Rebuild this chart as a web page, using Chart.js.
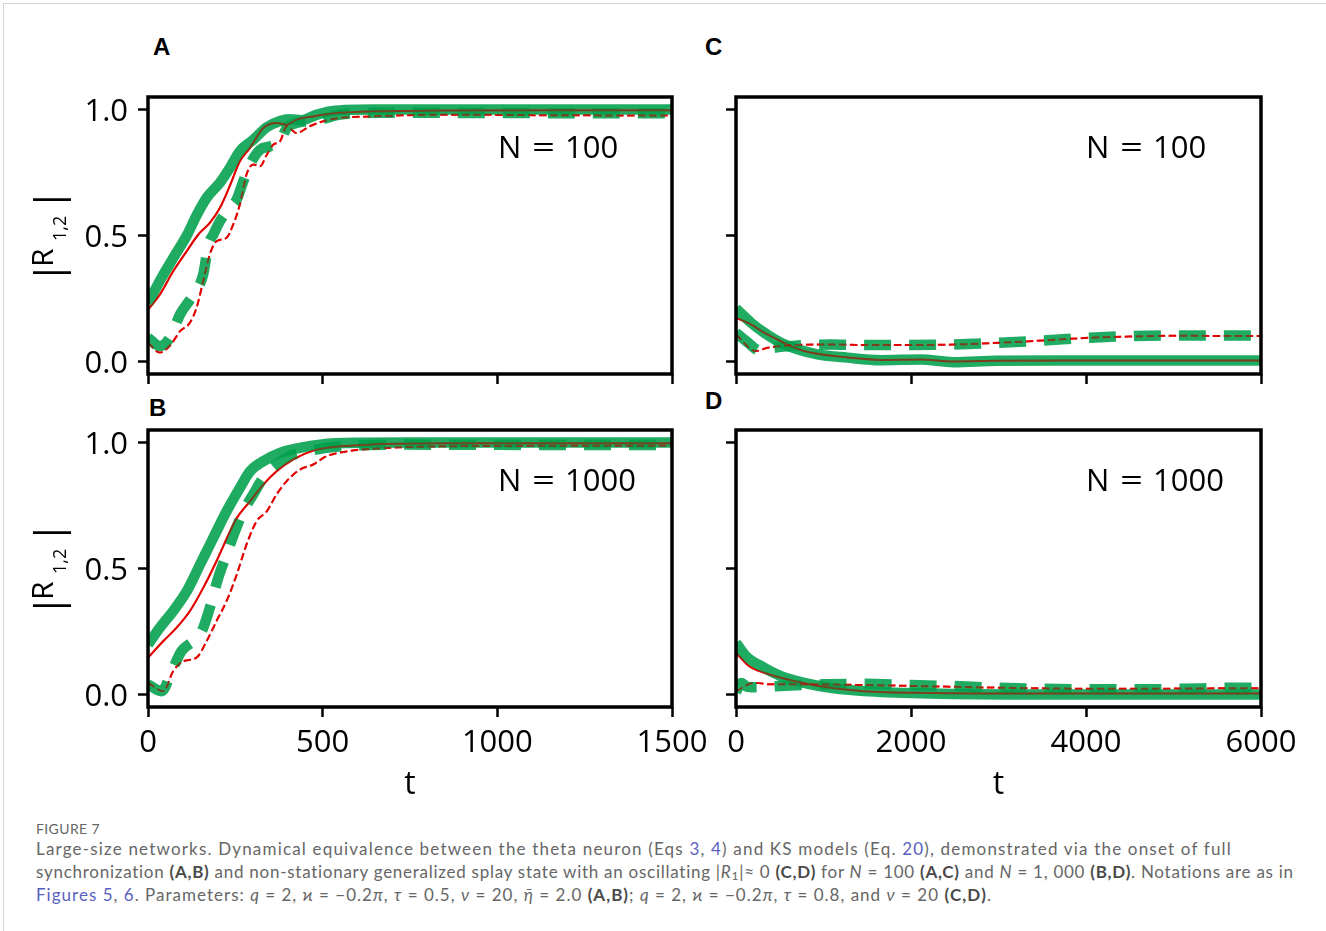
<!DOCTYPE html>
<html><head><meta charset="utf-8">
<script src="https://cdn.jsdelivr.net/npm/chart.js@4.4.0/dist/chart.umd.min.js"></script>
<style>
html,body{margin:0;padding:0;background:#fff;}
body{width:1326px;height:931px;position:relative;overflow:hidden;}
.frame{position:absolute;left:3px;top:3px;width:1400px;height:1000px;border-left:1.5px solid #d4d4d4;border-top:1.5px solid #d4d4d4;}
.box{position:absolute;}
.letter{position:absolute;font:bold 24px "Liberation Sans",Arial,sans-serif;line-height:24px;color:#000;}
.cap{position:absolute;left:36px;white-space:nowrap;font-family:Lato,"Noto Sans",sans-serif;color:#666;font-size:17px;line-height:23px;}
.cap b{color:#4a4a4a;font-weight:700}
.cap a{color:#5a5fbf;text-decoration:none}
.cap sub{font-size:12px;line-height:0;vertical-align:-2px}
.fig{position:absolute;left:36px;top:821px;font-family:Lato,"Noto Sans",sans-serif;font-size:14px;line-height:16px;color:#666;white-space:nowrap;}
</style></head><body>
<div class="frame"></div>
<div class="letter" style="left:153px;top:35px">A</div>
<div class="letter" style="left:705px;top:35px">C</div>
<div class="letter" style="left:149px;top:396px">B</div>
<div class="letter" style="left:705px;top:389px">D</div>
<div class="box" style="left:20px;top:80px;width:690px;height:320px"><canvas id="cA" width="690" height="320"></canvas></div>
<div class="box" style="left:700px;top:80px;width:600px;height:320px"><canvas id="cC" width="600" height="320"></canvas></div>
<div class="box" style="left:20px;top:410px;width:690px;height:394px"><canvas id="cB" width="690" height="394"></canvas></div>
<div class="box" style="left:700px;top:410px;width:600px;height:394px"><canvas id="cD" width="600" height="394"></canvas></div>
<div class="fig" data-w="64">FIGURE 7</div>
<div class="cap" data-w="1196" style="top:837px">Large-size networks. Dynamical equivalence between the theta neuron (Eqs <a>3</a>, <a>4</a>) and KS models (Eq. <a>20</a>), demonstrated via the onset of full</div>
<div class="cap" data-w="1259" style="top:860px">synchronization <b>(A,B)</b> and non-stationary generalized splay state with an oscillating |<i>R</i><sub>1</sub>|≈ 0 <b>(C,D)</b> for <i>N</i> = 100 <b>(A,C)</b> and <i>N</i> = 1, 000 <b>(B,D)</b>. Notations are as in</div>
<div class="cap" data-w="957" style="top:883px"><a>Figures 5</a>, <a>6</a>. Parameters: <i>q</i> = 2, ϰ = −0.2<i>π</i>, <i>τ</i> = 0.5, <i>ν</i> = 20, <i>η̄</i> = 2.0 <b>(A,B)</b>; <i>q</i> = 2, ϰ = −0.2<i>π</i>, <i>τ</i> = 0.8, and <i>ν</i> = 20 <b>(C,D)</b>.</div>
<script>
// ---------- tick labels ----------
const xTicksAB = [0, 500, 1000, 1500];
const xTicksCD = [0, 2000, 4000, 6000];
const yTicks = [0.0, 0.5, 1.0];
const nLabels = {A: '100', B: '1000', C: '100', D: '1000'};

// ---------- Panel A (N=100, sync) ----------
const aGreenSolidT = [0, 34, 72, 111, 139, 168, 206, 235, 263, 301, 340, 378, 405, 440, 480, 520, 560, 650, 800, 1000, 1200, 1500];
const aGreenSolidV = [0.23, 0.32, 0.41, 0.50, 0.58, 0.65, 0.71, 0.77, 0.835, 0.88, 0.93, 0.955, 0.962, 0.958, 0.978, 0.993, 0.998, 1.0, 1.0, 1.0, 1.0, 1.0];
const aRedSolidT = [0, 34, 72, 111, 144, 177, 206, 235, 263, 292, 330, 368, 397, 425, 473, 550, 645, 836, 1100, 1500];
const aRedSolidV = [0.205, 0.266, 0.358, 0.438, 0.504, 0.55, 0.61, 0.70, 0.795, 0.848, 0.927, 0.947, 0.94, 0.96, 0.973, 0.987, 0.993, 0.996, 0.997, 0.997];
const aGreenDashT = [0, 34, 63, 92, 130, 158, 173, 187, 206, 235, 254, 273, 292, 321, 349, 378, 397, 425, 454, 492, 550, 645, 836, 1100, 1500];
const aGreenDashV = [0.094, 0.061, 0.095, 0.187, 0.266, 0.345, 0.464, 0.504, 0.557, 0.611, 0.643, 0.716, 0.782, 0.841, 0.854, 0.874, 0.927, 0.947, 0.954, 0.96, 0.98, 0.987, 0.987, 0.986, 0.985];
const aRedDashT = [0, 34, 63, 92, 120, 139, 158, 177, 196, 225, 244, 263, 282, 301, 321, 340, 359, 378, 397, 425, 463, 502, 550, 645, 836, 1100, 1500];
const aRedDashV = [0.074, 0.035, 0.063, 0.12, 0.154, 0.213, 0.319, 0.425, 0.477, 0.491, 0.544, 0.623, 0.742, 0.782, 0.775, 0.821, 0.861, 0.874, 0.934, 0.907, 0.934, 0.954, 0.967, 0.973, 0.98, 0.978, 0.976];

// ---------- Panel B (N=1000, sync) ----------
const bGreenSolidT = [0, 34, 72, 111, 149, 187, 225, 263, 292, 330, 378, 435, 492, 597, 800, 1100, 1500];
const bGreenSolidV = [0.198, 0.265, 0.331, 0.41, 0.516, 0.622, 0.727, 0.82, 0.886, 0.926, 0.959, 0.979, 0.992, 0.999, 1.0, 1.0, 1.0];
const bRedSolidT = [0, 44, 82, 120, 158, 196, 235, 254, 292, 330, 368, 416, 473, 550, 645, 850, 1100, 1500];
const bRedSolidV = [0.146, 0.212, 0.265, 0.331, 0.423, 0.529, 0.648, 0.70, 0.767, 0.833, 0.886, 0.933, 0.968, 0.985, 0.993, 0.997, 0.997, 0.997];
const bGreenDashT = [0, 39, 68, 96, 130, 154, 177, 201, 225, 249, 273, 301, 330, 368, 406, 454, 511, 597, 741, 1000, 1500];
const bGreenDashV = [0.04, 0.013, 0.092, 0.172, 0.212, 0.251, 0.344, 0.463, 0.556, 0.648, 0.727, 0.794, 0.86, 0.913, 0.946, 0.965, 0.979, 0.989, 0.992, 0.991, 0.99];
const bRedDashT = [0, 44, 72, 101, 139, 168, 196, 225, 254, 282, 311, 340, 368, 397, 435, 473, 511, 569, 645, 836, 1100, 1500];
const bRedDashV = [0.046, 0.013, 0.092, 0.132, 0.146, 0.212, 0.291, 0.371, 0.476, 0.595, 0.688, 0.727, 0.794, 0.847, 0.893, 0.913, 0.946, 0.965, 0.976, 0.985, 0.987, 0.988];

// ---------- Panel C (N=100, splay) ----------
const cGreenSolidT = [0, 170, 322, 512, 702, 930, 1271, 1651, 2107, 2486, 2979, 3738, 4500, 5200, 6000];
const cGreenSolidV = [0.21, 0.154, 0.114, 0.074, 0.048, 0.028, 0.015, 0.005, 0.008, -0.003, 0.003, 0.004, 0.004, 0.004, 0.004];
const cRedSolidT = [0, 170, 322, 512, 702, 930, 1271, 1651, 2107, 2486, 2979, 3738, 4500, 5200, 6000];
const cRedSolidV = [0.173, 0.147, 0.114, 0.08, 0.05, 0.03, 0.016, 0.006, 0.008, 0.0, 0.003, 0.004, 0.004, 0.004, 0.004];
const cGreenDashT = [0, 114, 284, 436, 702, 1082, 1461, 1955, 2486, 3017, 3510, 4042, 4535, 5066, 5579, 6000];
const cGreenDashV = [0.114, 0.081, 0.041, 0.054, 0.063, 0.067, 0.065, 0.065, 0.067, 0.074, 0.083, 0.094, 0.101, 0.103, 0.103, 0.103];
const cRedDashT = [0, 227, 360, 702, 1082, 1461, 1955, 2486, 3017, 3510, 4042, 4535, 5066, 5579, 6000];
const cRedDashV = [0.107, 0.041, 0.054, 0.065, 0.067, 0.065, 0.065, 0.067, 0.074, 0.083, 0.094, 0.099, 0.102, 0.101, 0.101];

// ---------- Panel D (N=1000, splay) ----------
const dGreenSolidT = [0, 114, 322, 512, 778, 1082, 1461, 2220, 3358, 4500, 6000];
const dGreenSolidV = [0.205, 0.152, 0.106, 0.073, 0.046, 0.026, 0.013, 0.004, 0.0, 0.0, 0.0];
const dRedSolidT = [0, 152, 322, 512, 778, 1082, 1461, 2220, 3358, 4500, 6000];
const dRedSolidV = [0.165, 0.112, 0.086, 0.066, 0.044, 0.026, 0.013, 0.006, 0.004, 0.004, 0.004];
const dGreenDashT = [0, 60, 130, 250, 450, 750, 1006, 1461, 1993, 2505, 3017, 3529, 4042, 4554, 5066, 5597, 6000];
const dGreenDashV = [0.01, 0.045, 0.03, 0.028, 0.032, 0.037, 0.04, 0.042, 0.037, 0.033, 0.026, 0.022, 0.02, 0.02, 0.022, 0.026, 0.027];
const dRedDashT = [0, 208, 398, 800, 1500, 2500, 3500, 4500, 5500, 6000];
const dRedDashV = [0.013, 0.046, 0.04, 0.04, 0.037, 0.03, 0.024, 0.022, 0.024, 0.024];

// ---------- styles ----------
const FONT = '"Open Sans", "Noto Sans", sans-serif';
const GREEN = 'rgba(0,160,76,0.88)';
const RED = '#ff0000';
const RED_OVER = 'rgba(200,0,0,0.55)';

function pts(T, V) { return T.map((t, i) => ({x: t, y: V[i]})); }

function makeDatasets(gsT, gsV, rsT, rsV, gdT, gdV, rdT, rdV) {
  const gs = pts(gsT, gsV), rs = pts(rsT, rsV), gd = pts(gdT, gdV), rd = pts(rdT, rdV);
  const base = {fill: false, pointRadius: 0, cubicInterpolationMode: 'monotone', clip: 0, borderCapStyle: 'butt', borderJoinStyle: 'round'};
  return [
    {...base, data: rs, borderColor: RED, borderWidth: 2, order: 5},
    {...base, data: rd, borderColor: RED, borderWidth: 2, borderDash: [7.5, 3.5], order: 5},
    {...base, data: gs, borderColor: GREEN, borderWidth: 10.5, order: 3},
    {...base, data: gd, borderColor: GREEN, borderWidth: 10.5, borderDash: [27, 18], order: 3},
    {...base, data: rs, borderColor: RED_OVER, borderWidth: 2, order: 1},
    {...base, data: rd, borderColor: RED_OVER, borderWidth: 2, borderDash: [7.5, 3.5], order: 1}
  ];
}

const panelPlugin = {
  id: 'panel',
  afterDatasetsDraw(chart, args, o) {
    const {ctx, chartArea: a} = chart;
    ctx.save();
    ctx.lineWidth = 3.5; ctx.strokeStyle = '#000';
    ctx.strokeRect(a.left, a.top, a.right - a.left, a.bottom - a.top);
    ctx.fillStyle = '#000';
    ctx.textBaseline = 'alphabetic'; ctx.textAlign = 'left';
    ctx.font = '31px ' + FONT;
    const by = a.top + 61;
    ctx.fillText('N', a.left + 350, by);
    ctx.fillText(o.n, a.left + 417, by);
    ctx.save();
    ctx.translate(a.left + 384, by);
    ctx.scale(1.3, 1);
    ctx.fillText('=', 0, 0);
    ctx.restore();
    if (o.ytitle) {
      const cy = (a.top + a.bottom) / 2;
      ctx.translate(32.7, cy);
      ctx.rotate(-Math.PI / 2);
      ctx.textAlign = 'center';
      ctx.font = '38px ' + FONT;
      ctx.fillText('|', -37, 9);
      ctx.fillText('|', 36, 9);
      ctx.textAlign = 'left';
      ctx.font = '30px ' + FONT;
      ctx.fillText('R', -31.5, 0);
      ctx.font = '18px ' + FONT;
      ctx.fillText('1,2', -5.5, 13);
    }
    ctx.restore();
  }
};

function makeScales(xmax, xticks, showX, showY, xHeight, yWidth) {
  const gridOpts = {display: true, drawOnChartArea: false, drawTicks: true, tickLength: 10, tickWidth: 2.5, tickColor: '#000', color: '#000'};
  return {
    x: {
      type: 'linear', min: 0, max: xmax,
      afterBuildTicks: s => { s.ticks = xticks.map(v => ({value: v})); },
      afterFit: s => { s.height = xHeight; s.paddingLeft = 0; s.paddingRight = 0; },
      grid: gridOpts, border: {display: false},
      ticks: {display: showX, color: '#000', font: {family: FONT, size: 31}, padding: 8, maxRotation: 0, autoSkip: false, callback: v => String(v)},
      title: {display: showX, text: 't', color: '#000', font: {family: FONT, size: 32}, padding: 0}
    },
    y: {
      type: 'linear', min: -0.05, max: 1.05,
      afterBuildTicks: s => { s.ticks = yTicks.map(v => ({value: v})); },
      afterFit: s => { s.width = yWidth; s.paddingTop = 0; s.paddingBottom = 0; },
      grid: gridOpts, border: {display: false},
      ticks: {display: showY, color: '#000', font: {family: FONT, size: 31}, padding: 10, labelOffset: 3, callback: v => Number(v).toFixed(1)}
    }
  };
}

function makeChart(id, ds, xmax, xticks, showX, showY, xHeight, yWidth, pad, n) {
  return new Chart(document.getElementById(id), {
    type: 'line',
    data: {datasets: ds},
    options: {
      responsive: false, animation: false, devicePixelRatio: 1,
      layout: {padding: pad},
      plugins: {legend: {display: false}, tooltip: {enabled: false}, panel: {n: n, ytitle: showY}},
      scales: makeScales(xmax, xticks, showX, showY, xHeight, yWidth)
    },
    plugins: [panelPlugin]
  });
}

makeChart('cA', makeDatasets(aGreenSolidT, aGreenSolidV, aRedSolidT, aRedSolidV, aGreenDashT, aGreenDashV, aRedDashT, aRedDashV),
  1500, xTicksAB, false, true, 26, 128, {left: 0, top: 17, right: 38, bottom: 0}, nLabels.A);
makeChart('cC', makeDatasets(cGreenSolidT, cGreenSolidV, cRedSolidT, cRedSolidV, cGreenDashT, cGreenDashV, cRedDashT, cRedDashV),
  6000, xTicksCD, false, false, 26, 36, {left: 0, top: 17, right: 39, bottom: 0}, nLabels.C);
makeChart('cB', makeDatasets(bGreenSolidT, bGreenSolidV, bRedSolidT, bRedSolidV, bGreenDashT, bGreenDashV, bRedDashT, bRedDashV),
  1500, xTicksAB, true, true, 97, 128, {left: 0, top: 20, right: 38, bottom: 0}, nLabels.B);
makeChart('cD', makeDatasets(dGreenSolidT, dGreenSolidV, dRedSolidT, dRedSolidV, dGreenDashT, dGreenDashV, dRedDashT, dRedDashV),
  6000, xTicksCD, true, false, 97, 36, {left: 0, top: 20, right: 39, bottom: 0}, nLabels.D);

function fitCaptions() {
  document.querySelectorAll('[data-w]').forEach(el => {
    el.style.letterSpacing = '0px';
    const target = +el.dataset.w;
    const n = el.textContent.length;
    const w = el.getBoundingClientRect().width;
    el.style.letterSpacing = ((target - w) / n) + 'px';
  });
}
fitCaptions();
if (document.fonts && document.fonts.ready) document.fonts.ready.then(fitCaptions);
</script>
</body></html>
